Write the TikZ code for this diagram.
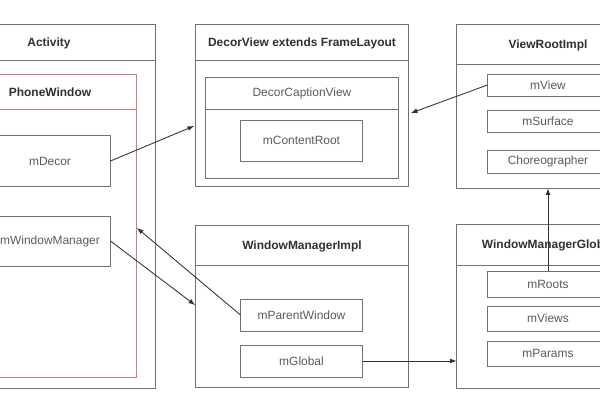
\documentclass[tikz,border=0pt]{standalone}
\usepackage{fontspec}
\setmainfont{Liberation Sans}
\usepackage{tikz}
\usetikzlibrary{arrows, positioning}

\definecolor{boxline}{HTML}{707070}
\definecolor{redline}{HTML}{D47C7C}
\definecolor{headtxt}{HTML}{303030}
\definecolor{fieldtxt}{HTML}{5A5A5A}
\definecolor{arrowline}{HTML}{303030}

\tikzset{
  frame/.style={draw=boxline, line width=0.7pt, inner sep=0pt},
  head/.style={draw=boxline, line width=0.7pt, anchor=north, inner sep=0pt, text=headtxt, font=\fontsize{8.5}{10}\selectfont\bfseries},
  field/.style={draw=boxline, line width=0.7pt, inner sep=0pt, minimum width=3cm, text=fieldtxt, font=\fontsize{8.5}{10}\selectfont},
  link/.style={draw=arrowline, line width=0.6pt},
}

\begin{document}
\begin{tikzpicture}[x=0.025cm, y=-0.025cm, -latex]
            \useasboundingbox (0,0) rectangle (600,400);
            \clip (0,0) rectangle (600,400);
            \fill[white] (0,0) rectangle (600,400);

            % Activity / PhoneWindow
            \node[frame, minimum width=5.3cm, minimum height=9.075cm] (activity) at (49,206.5) {};
            \node[head, minimum width=5.3cm, minimum height=0.9cm] (activityHead) at (activity.north) {Activity};
            \node[frame, draw=redline, minimum width=4.3cm, minimum height=7.55cm] (phoneWindow) at (50,226) {};
            \node[head, draw=redline, minimum width=4.3cm, minimum height=0.875cm] (phoneWindowHead) at (phoneWindow.north) {PhoneWindow};
            \node[field, minimum height=1.25cm] (mDecor) at (50,161) {mDecor};
            \node[field, minimum height=1.25cm] (mWindowManager) at (50,241) {mWindowManager};

            % DecorView
            \node[frame, minimum width=5.3cm, minimum height=4.025cm] (decorView) at (302,105.5) {};
            \node[head, minimum width=5.3cm, minimum height=0.9cm] (decorViewHead) at (decorView.north) {DecorView extends FrameLayout};
            \node[frame, minimum width=4.8cm, minimum height=2.5cm] (decorCaption) at (302,128) {};
            \node[head, font=\fontsize{8.5}{10}\selectfont, text=fieldtxt, minimum width=4.8cm, minimum height=0.775cm] (decorCaptionHead) at (decorCaption.north) {DecorCaptionView};
            \node[field, minimum width=3.025cm, minimum height=1.025cm] (mContentRoot) at (301.5,140.5) {mContentRoot};

            % WindowManagerImpl
            \node[frame, minimum width=5.3cm, minimum height=4.025cm] (wmImpl) at (302,306.5) {};
            \node[head, minimum width=5.3cm, minimum height=1cm] (wmImplHead) at (wmImpl.north) {WindowManagerImpl};
            \node[field, minimum width=3.025cm, minimum height=0.8cm] (mParentWindow) at (301.5,315) {mParentWindow};
            \node[field, minimum width=3.025cm, minimum height=0.8cm] (mGlobal) at (301.5,361) {mGlobal};

            % ViewRootImpl
            \node[frame, minimum width=4.55cm, minimum height=4.075cm] (viewRoot) at (548,106.5) {};
            \node[head, minimum width=4.55cm, minimum height=1cm] (viewRootHead) at (viewRoot.north) {ViewRootImpl};
            \node[field, minimum height=0.55cm] (mView) at (548,85) {mView};
            \node[field, minimum height=0.55cm] (mSurface) at (548,121) {mSurface};
            \node[field, minimum height=0.575cm] (choreographer) at (548,161.5) {Choreographer};

            % WindowManagerGlobal
            \node[frame, minimum width=4.55cm, minimum height=4.075cm] (wmGlobal) at (548,306.5) {};
            \node[head, minimum width=4.55cm, minimum height=1.025cm] (wmGlobalHead) at (wmGlobal.north) {WindowManagerGlobal};
            \node[field, minimum height=0.65cm] (mRoots) at (548,284) {mRoots};
            \node[field, minimum height=0.625cm] (mViews) at (548,318.5) {mViews};
            \node[field, minimum height=0.625cm] (mParams) at (548,353.5) {mParams};

            \coordinate (decorIn) at (194,126);
            \coordinate (viewIn) at (411,113);
            \coordinate (phoneIn) at (137,228);
            \coordinate (implIn) at (195,305);

            \path[-latex] (mDecor.east) edge [link] (decorIn)
                          (mView.west) edge [link] (viewIn)
                          (mParentWindow.west) edge [link] (phoneIn)
                          (mWindowManager.east) edge [link] (implIn)
                          (mGlobal.east) edge [link] (wmGlobal.west |- mGlobal.east)
                          (mRoots.north) edge [link] (viewRoot.south);
        \end{tikzpicture}
\end{document}
